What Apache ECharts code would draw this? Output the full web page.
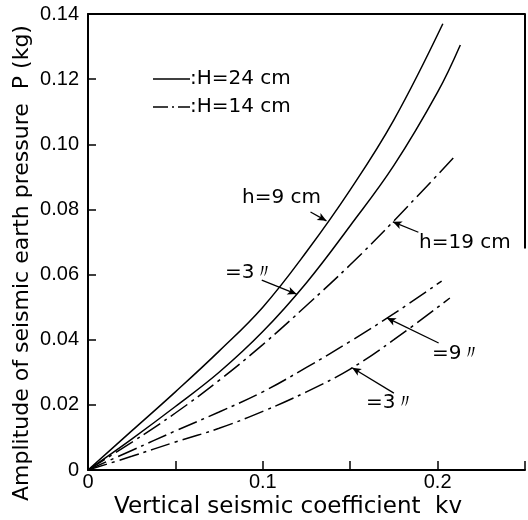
<!DOCTYPE html>
<html>
<head>
<meta charset="utf-8">
<script src="https://cdn.jsdelivr.net/npm/echarts@6/dist/echarts.min.js"></script>
<style>html,body{margin:0;padding:0;background:#fff}#c{width:528px;height:520px}</style>
</head>
<body>
<div id="c"></div>
<script>
// ---- data ----
const kvH24h9 = [0, 0.025, 0.05, 0.075, 0.1, 0.125, 0.15, 0.175, 0.203];
const pH24h9  = [0, 0.012, 0.024, 0.0365, 0.050, 0.067, 0.086, 0.1075, 0.137];

const kvH24h3 = [0, 0.025, 0.05, 0.075, 0.1, 0.125, 0.15, 0.175, 0.2, 0.213];
const pH24h3  = [0, 0.0095, 0.0195, 0.030, 0.0425, 0.0575, 0.075, 0.0935, 0.116, 0.1305];

const kvH14h19 = [0, 0.025, 0.05, 0.075, 0.1, 0.125, 0.15, 0.175, 0.209];
const pH14h19  = [0, 0.0085, 0.0175, 0.0275, 0.0385, 0.0505, 0.063, 0.0765, 0.0958];

const kvH14h9 = [0, 0.025, 0.05, 0.075, 0.1, 0.125, 0.15, 0.175, 0.2023];
const pH14h9  = [0, 0.006, 0.012, 0.0178, 0.024, 0.0315, 0.0395, 0.048, 0.058];

const kvH14h3 = [0, 0.025, 0.05, 0.075, 0.1, 0.125, 0.15, 0.175, 0.207];
const pH14h3  = [0, 0.0042, 0.0086, 0.0128, 0.018, 0.024, 0.031, 0.040, 0.0528];

const xTickLabels = {0: '0', 0.1: '0.1', 0.2: '0.2'};
const yTickLabels = ['0', '0.02', '0.04', '0.06', '0.08', '0.10', '0.12', '0.14'];

// annotation leader arrows: [fromKv, fromP, toKv, toP]
const arrowH9  = [0.1273, 0.0792, 0.1364, 0.0765];
const arrowH3a = [0.0994, 0.0583, 0.1193, 0.0540];
const arrowH19 = [0.1890, 0.0730, 0.1744, 0.0762];
const arrowH9b = [0.2006, 0.0390, 0.1710, 0.0467];
const arrowH3b = [0.1750, 0.0236, 0.1511, 0.0314];

// ---- build ----
const zip = (a, b) => a.map((v, i) => [v, b[i]]);
const BLACK = '#000';
const dashDot = [20, 5, 3, 5];
const curve = (name, x, y, dashed) => ({
  name, type: 'line', data: zip(x, y), smooth: 0.4, showSymbol: false, symbol: 'none',
  lineStyle: {color: BLACK, width: 1.5, type: dashed ? dashDot : 'solid'},
  silent: true, animation: false, z: 3
});
const arrow = a => [
  {coord: [a[0], a[1]], symbol: 'none'},
  {coord: [a[2], a[3]], symbol: 'arrow', symbolSize: [6, 9]}
];

const chart = echarts.init(document.getElementById('c'), null, {renderer: 'canvas'});
const numFont = 'Liberation Sans';
const txtFont = 'DejaVu Sans';

chart.setOption({
  animation: false,
  backgroundColor: '#fff',
  grid: {left: 88, right: 2, top: 14, bottom: 50, containLabel: false},
  xAxis: [{
    type: 'value', min: 0, max: 0.25, interval: 0.05,
    axisLine: {show: true, onZero: false, lineStyle: {color: BLACK, width: 2}},
    axisTick: {show: true, inside: true, length: 9, lineStyle: {color: BLACK, width: 1.5}},
    axisLabel: {
      margin: 2, color: BLACK, fontFamily: numFont, fontSize: 20,
      formatter: v => { const k = Math.round(v * 100) / 100; return xTickLabels[k] !== undefined ? xTickLabels[k] : ''; }
    },
    splitLine: {show: false}
  }, {
    type: 'value', min: 0, max: 0.25, position: 'top',
    axisLine: {show: true, onZero: false, lineStyle: {color: BLACK, width: 2}},
    axisTick: {show: false}, axisLabel: {show: false}, splitLine: {show: false}
  }],
  yAxis: {
    type: 'value', min: 0, max: 0.14, interval: 0.02,
    axisLine: {show: true, onZero: false, lineStyle: {color: BLACK, width: 2}},
    axisTick: {show: true, inside: true, length: 8, lineStyle: {color: BLACK, width: 1.5}},
    axisLabel: {
      margin: 9, color: BLACK, fontFamily: numFont, fontSize: 20,
      formatter: v => yTickLabels[Math.round(v / 0.02)]
    },
    splitLine: {show: false}
  },
  series: [
    curve('H=24 h=9', kvH24h9, pH24h9, false),
    curve('H=24 h=3', kvH24h3, pH24h3, false),
    curve('H=14 h=19', kvH14h19, pH14h19, true),
    curve('H=14 h=9', kvH14h9, pH14h9, true),
    curve('H=14 h=3', kvH14h3, pH14h3, true),
    {
      name: 'frame', type: 'line', data: [[0.25, 0.14], [0.25, 0.068]],
      showSymbol: false, symbol: 'none', clip: false, silent: true,
      lineStyle: {color: BLACK, width: 2},
      markLine: {
        silent: true, animation: false,
        label: {show: false},
        lineStyle: {color: BLACK, width: 1.3, type: 'solid'},
        data: [arrow(arrowH9), arrow(arrowH3a), arrow(arrowH19), arrow(arrowH9b), arrow(arrowH3b)]
      }
    }
  ],
  graphic: [
    // legend
    {type: 'line', shape: {x1: 153, y1: 79, x2: 190, y2: 79}, style: {stroke: BLACK, lineWidth: 1.5}},
    {type: 'text', x: 190, y: 79, style: {text: ':H=24 cm', fill: BLACK, font: '20px "' + txtFont + '"', textVerticalAlign: 'middle'}},
    {type: 'line', shape: {x1: 153, y1: 107, x2: 190, y2: 107}, style: {stroke: BLACK, lineWidth: 1.5, lineDash: [15, 4, 2, 4]}},
    {type: 'text', x: 190, y: 107, style: {text: ':H=14 cm', fill: BLACK, font: '20px "' + txtFont + '"', textVerticalAlign: 'middle'}},
    // curve annotations
    {type: 'text', x: 242, y: 198, style: {text: 'h=9 cm', fill: BLACK, font: '20px "' + txtFont + '"', textVerticalAlign: 'middle'}},
    {type: 'text', x: 225, y: 273, style: {text: '=3〃', fill: BLACK, font: '20px "' + txtFont + '"', textVerticalAlign: 'middle'}},
    {type: 'text', x: 419, y: 243, style: {text: 'h=19 cm', fill: BLACK, font: '20px "' + txtFont + '"', textVerticalAlign: 'middle'}},
    {type: 'text', x: 432, y: 354, style: {text: '=9〃', fill: BLACK, font: '20px "' + txtFont + '"', textVerticalAlign: 'middle'}},
    {type: 'text', x: 366, y: 403, style: {text: '=3〃', fill: BLACK, font: '20px "' + txtFont + '"', textVerticalAlign: 'middle'}},
    // axis titles
    {type: 'text', x: 288, y: 507, style: {text: 'Vertical seismic coefficient  kv', fill: BLACK, font: '23px "' + txtFont + '"', textAlign: 'center', textVerticalAlign: 'middle'}},
    {type: 'text', x: 22, y: 263, rotation: Math.PI / 2, style: {text: 'Amplitude of seismic earth pressure  P (kg)', fill: BLACK, font: '22px "' + txtFont + '"', textAlign: 'center', textVerticalAlign: 'middle'}}
  ]
});
</script>
</body>
</html>
